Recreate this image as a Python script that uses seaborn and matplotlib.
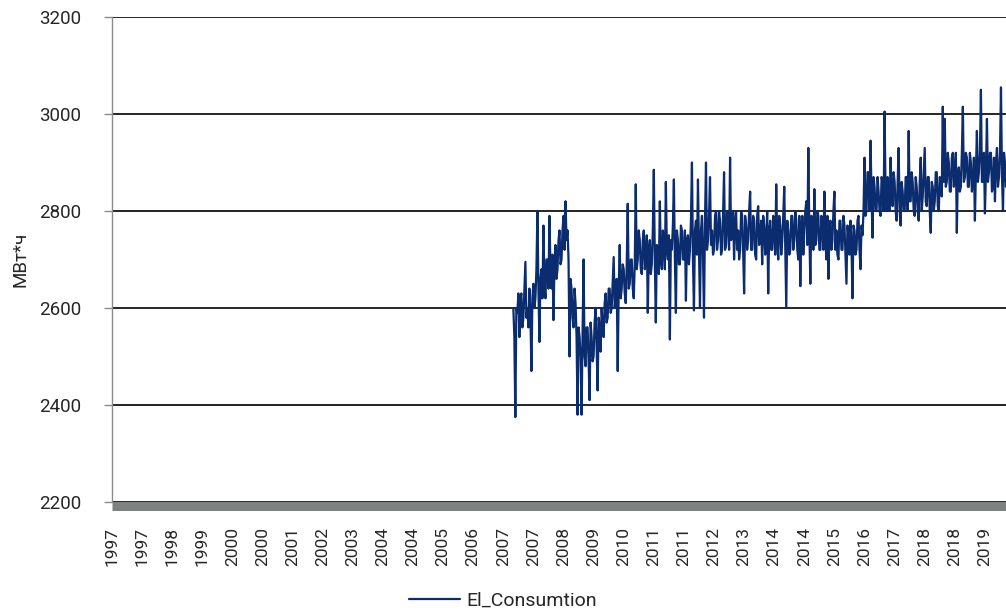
import numpy as np
import pandas as pd
import matplotlib
matplotlib.use('Agg')
import matplotlib.pyplot as plt
import seaborn as sns

# tick labels of the category axis (one label every 30 observations)
tick_labels = ['1997', '1997', '1998', '1999', '2000', '2000', '2001', '2002', '2003', '2004',
               '2004', '2005', '2006', '2007', '2007', '2008', '2009', '2010', '2011', '2011',
               '2012', '2013', '2014', '2014', '2015', '2016', '2017', '2018', '2018', '2019']
obs_per_tick = 30
first_obs = 400
n_obs_axis = 891

# electricity consumption, MWh:
# readings at even observations (spikes included) ...
consumption_even = [
    2600, 2375, 2590, 2540, 2630, 2580, 2695, 2600, 2640, 2470, 2650,
    2620, 2800, 2530, 2680, 2770, 2620, 2700, 2790, 2640, 2575, 2730,
    2680, 2760, 2700, 2790, 2820, 2760,
    2500, 2640, 2560, 2610, 2380,
    2540, 2380, 2700, 2480, 2560, 2410, 2540, 2500, 2600, 2430, 2560,
    2600, 2540, 2630, 2580, 2640, 2600, 2705, 2620, 2470, 2730, 2640,
    2680, 2610, 2815, 2650, 2700, 2620,
    2855, 2700, 2740, 2670, 2760, 2700, 2590, 2740, 2690, 2885, 2570,
    2720, 2820, 2680, 2740, 2860, 2700, 2535,
    2720, 2865, 2590, 2740, 2690, 2760, 2700, 2615, 2750, 2720, 2900,
    2595, 2780, 2865, 2600, 2790, 2580, 2900, 2740, 2870, 2760, 2720,
    2800, 2740, 2780, 2720, 2880, 2730, 2790, 2910, 2750, 2700, 2800,
    2760, 2720, 2790, 2630, 2770, 2740, 2840, 2720, 2780, 2700, 2810,
    2750, 2690, 2770, 2740, 2630, 2780, 2720, 2760, 2855, 2700, 2770,
    2740, 2850, 2600, 2760, 2720, 2790, 2740, 2780, 2700, 2645, 2790,
    2760, 2820, 2930, 2650, 2780, 2845, 2740, 2790, 2720, 2770, 2840,
    2700, 2660, 2780, 2740, 2840,
    2760, 2700, 2780, 2720, 2770, 2650, 2750, 2780, 2620, 2760, 2720,
    2790, 2680, 2750,
    2910, 2800, 2880, 2945, 2745, 2850,
    2800, 2840, 2790, 2860, 3005, 2800, 2850, 2910, 2810, 2860, 2780,
    2930, 2770, 2840, 2800, 2870, 2965, 2820, 2860, 2790, 2850, 2780,
    2910, 2830, 2930, 2810, 2870, 2755, 2850, 2820, 2880, 2800, 2860,
    3015, 2990, 2860, 2900, 2840, 2920, 2870, 2755, 2890, 2850, 3015,
    2870, 2910, 2850, 2900, 2860, 2780, 2965, 2880, 3050, 2860, 2795,
    2990, 2880, 2920, 2850, 2820, 2930, 2870, 3055, 2800, 2900, 2880,
]

# ... and at odd observations (mostly the dense core of the band)
consumption_odd = [
    2540, 2600, 2630, 2620, 2560, 2640, 2580, 2560, 2590, 2620, 2600,
    2680, 2640, 2660, 2620, 2650, 2700, 2640, 2680, 2710, 2690, 2660,
    2740, 2690, 2760, 2720, 2740, 2700,
    2660, 2580, 2640, 2540, 2560,
    2500, 2550, 2500, 2560, 2490, 2570, 2490, 2570, 2520, 2580, 2510,
    2560, 2610, 2570, 2640, 2590, 2650, 2600, 2660, 2640, 2620, 2690,
    2630, 2690, 2640, 2700, 2640, 2690,
    2680, 2760, 2680, 2740, 2680, 2750, 2720, 2670, 2760, 2700, 2730,
    2670, 2700, 2760, 2680, 2720, 2750, 2740,
    2770, 2700, 2760, 2690, 2770, 2700, 2760, 2740, 2690, 2780,
    2700, 2760, 2710, 2720, 2760, 2710, 2780, 2720, 2790, 2730,
    2710, 2790, 2720, 2800, 2710, 2790, 2720, 2800, 2720, 2740,
    2800, 2780, 2720, 2700, 2800, 2720, 2790, 2720, 2800, 2720,
    2790, 2710, 2790, 2730, 2780, 2790, 2710, 2800, 2760, 2720,
    2790, 2710, 2740, 2790, 2710, 2790, 2720, 2780, 2710, 2790,
    2720, 2800, 2720, 2790, 2760, 2710, 2800, 2730, 2760, 2790,
    2720, 2730, 2800, 2720, 2790, 2720, 2740, 2790, 2760, 2720,
    2800, 2720,
    2710, 2780, 2720, 2790, 2710, 2770, 2710, 2730, 2770, 2710, 2780,
    2720, 2770, 2800,
    2790, 2880, 2800, 2830, 2870, 2800,
    2870, 2800, 2870, 2800, 2830, 2870, 2800, 2830, 2880, 2800, 2860,
    2800, 2860, 2800, 2870, 2800, 2820, 2880, 2800, 2870, 2800, 2860,
    2800, 2880, 2820, 2870, 2800, 2860, 2800, 2880, 2810, 2870, 2830,
    2860, 2850, 2920, 2840, 2910, 2850, 2920, 2880, 2840, 2920, 2860,
    2920, 2850, 2920, 2840, 2910, 2880, 2860, 2920, 2860, 2920, 2880,
    2860, 2920, 2840, 2910, 2900, 2850, 2920, 2870, 2920, 2850,
]

values = np.empty(len(consumption_even) + len(consumption_odd))
values[0::2] = consumption_even
values[1::2] = consumption_odd
df = pd.DataFrame({'obs': first_obs + np.arange(len(values)), 'El_Consumtion': values})

sns.set_theme(style='white')
plt.rcParams['font.family'] = ['Roboto', 'DejaVu Sans']

fig = plt.figure(figsize=(10.06, 6.15), dpi=100)
ax = fig.add_axes([112 / 1006, 113 / 615, 894 / 1006, 485 / 615])

sns.lineplot(data=df, x='obs', y='El_Consumtion', ax=ax, color='#0b2c6f',
             linewidth=1.6, label='El_Consumtion', sort=False, estimator=None)

ax.set_ylim(2200, 3200)
ax.set_yticks(np.arange(2200, 3201, 200))
ax.set_xlim(0, n_obs_axis)
ax.set_xticks(np.arange(len(tick_labels)) * obs_per_tick)
ax.set_xticklabels(tick_labels)
ax.tick_params(axis='x', length=0, pad=15, labelsize=12.5, labelrotation=90)
ax.tick_params(axis='y', length=6, width=1, color='#8c8c8c', pad=16, labelsize=13.5,
               left=True)

ax.yaxis.grid(True, color='black', linewidth=1.2)
ax.xaxis.grid(False)
ax.set_axisbelow(True)

for side in ['top', 'right']:
    ax.spines[side].set_visible(False)
ax.spines['left'].set_color('#8c8c8c')
ax.spines['left'].set_linewidth(1)
ax.spines['bottom'].set_color('#7f8181')
ax.spines['bottom'].set_linewidth(6.5)
ax.spines['bottom'].set_capstyle('butt')
ax.spines['bottom'].set_position(('outward', 3.2))

ax.set_xlabel('')
ax.set_ylabel('МВт*ч', fontsize=13.5)
ax.yaxis.set_label_coords(-0.092, 0.5)

ax.legend_.remove()
fig.legend(*ax.get_legend_handles_labels(), loc='center', bbox_to_anchor=(0.5, 14 / 615),
           frameon=False, fontsize=14, handlelength=2.6, handletextpad=0.3)

plt.savefig('out.png', dpi=100)
